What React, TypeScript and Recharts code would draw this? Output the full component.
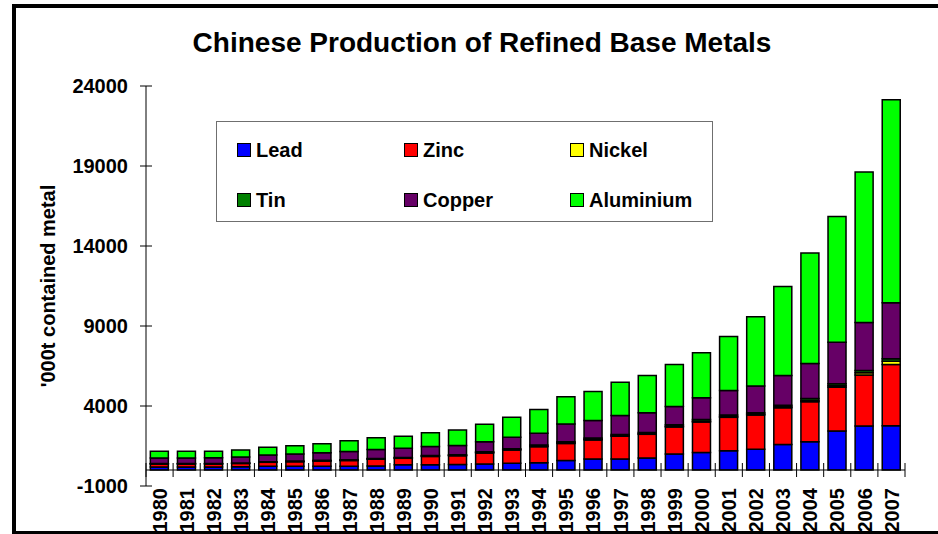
import React from 'react';
import { BarChart, Bar, XAxis, YAxis, Legend, ReferenceLine } from 'recharts';

// '000t contained metal
const years = [
  '1980', '1981', '1982', '1983', '1984', '1985', '1986', '1987', '1988', '1989',
  '1990', '1991', '1992', '1993', '1994', '1995', '1996', '1997', '1998', '1999',
  '2000', '2001', '2002', '2003', '2004', '2005', '2006', '2007',
];
const lead = [
  190, 190, 190, 210, 230, 230, 230, 240, 250, 330,
  330, 350, 375, 415, 460, 600, 690, 690, 750, 1000,
  1100, 1210, 1290, 1600, 1770, 2440, 2750, 2770,
];
const zinc = [
  190, 190, 190, 200, 250, 290, 330, 350, 420, 400,
  520, 540, 690, 830, 1000, 1060, 1190, 1420, 1480, 1690,
  1900, 2080, 2150, 2290, 2500, 2730, 3190, 3830,
];
const nickel = [
  11, 11, 12, 13, 15, 18, 20, 23, 25, 26,
  28, 30, 32, 30, 38, 42, 43, 44, 40, 45,
  51, 50, 53, 65, 75, 95, 140, 200,
];
const tin = [
  15, 16, 16, 17, 20, 20, 22, 25, 26, 30,
  35, 36, 40, 48, 67, 68, 71, 68, 80, 90,
  112, 105, 82, 98, 118, 122, 140, 160,
];
const copper = [
  350, 350, 360, 375, 420, 440, 480, 520, 560, 580,
  560, 580, 625, 730, 730, 1100, 1100, 1190, 1230, 1150,
  1350, 1520, 1670, 1850, 2200, 2600, 3000, 3500,
];
const aluminium = [
  420, 420, 410, 440, 480, 520, 560, 670, 730, 750,
  850, 960, 1100, 1250, 1480, 1710, 1810, 2080, 2330, 2625,
  2810, 3375, 4330, 5560, 6900, 7850, 9400, 12680,
];
const yTicks = [-1000, 4000, 9000, 14000, 19000, 24000];

const series = [
  { key: 'lead', name: 'Lead', color: '#0000FF' },
  { key: 'zinc', name: 'Zinc', color: '#FF0000' },
  { key: 'nickel', name: 'Nickel', color: '#FFFF00' },
  { key: 'tin', name: 'Tin', color: '#008000' },
  { key: 'copper', name: 'Copper', color: '#660066' },
  { key: 'aluminium', name: 'Aluminium', color: '#00FF00' },
];

const data = years.map((year, i) => ({
  year,
  lead: lead[i],
  zinc: zinc[i],
  nickel: nickel[i],
  tin: tin[i],
  copper: copper[i],
  aluminium: aluminium[i],
}));

const FONT = '"Liberation Sans", Arial, Helvetica, sans-serif';
const W = 938;
const H = 534;
const PLOT = { left: 146, top: 86, right: 905, bottom: 486 };
const Y_MIN = -1000;
const Y_MAX = 24000;
const Y_TICK_SIZE = 6;
const Y_TICK_MARGIN = 12;

const YTick = (props: any) => {
  const { x, y, payload } = props;
  const axisX = x + Y_TICK_SIZE + Y_TICK_MARGIN;
  return (
    <g>
      <line x1={axisX - 6} x2={axisX + 6} y1={y} y2={y} stroke="#000" strokeWidth={1} />
      <text x={x} y={y} dy="0.36em" textAnchor="end" fontSize={20} fontWeight="bold" fontFamily={FONT} fill="#000">
        {payload.value}
      </text>
    </g>
  );
};

const XTick = (props: any) => {
  const { x, y, payload } = props;
  // category axis crosses the value axis at zero, labels sit low
  const band = (PLOT.right - PLOT.left) / years.length;
  const y0 = PLOT.top + ((PLOT.bottom - PLOT.top) * Y_MAX) / (Y_MAX - Y_MIN);
  const isLast = payload.value === years[years.length - 1];
  return (
    <g>
      <line x1={x - band / 2} x2={x - band / 2} y1={y0 - 7} y2={y0 + 7} stroke="#000" strokeWidth={1} />
      {isLast && <line x1={x + band / 2} x2={x + band / 2} y1={y0 - 7} y2={y0 + 7} stroke="#000" strokeWidth={1} />}
      <text
        transform={`translate(${x},${y}) rotate(-90)`}
        dy="0.36em"
        textAnchor="end"
        fontSize={20}
        fontWeight="bold"
        fontFamily={FONT}
        fill="#000"
      >
        {payload.value}
      </text>
    </g>
  );
};

const renderLegend = () => {
  const colX = [20, 187, 353];
  const rowY = [28, 78];
  return (
    <div
      style={{
        position: 'relative',
        width: 497,
        height: 101,
        boxSizing: 'border-box',
        border: '1px solid #6f6f6f',
        background: '#fff',
        fontFamily: FONT,
      }}
    >
      {series.map((s, i) => (
        <div
          key={s.key}
          style={{
            position: 'absolute',
            left: colX[i % 3],
            top: rowY[Math.floor(i / 3)] - 12,
            height: 24,
            display: 'flex',
            alignItems: 'center',
          }}
        >
          <span
            style={{
              display: 'inline-block',
              width: 12,
              height: 12,
              background: s.color,
              border: '1px solid #000',
              marginRight: 5,
            }}
          />
          <span style={{ fontSize: 20, fontWeight: 'bold', color: '#000', lineHeight: '24px' }}>{s.name}</span>
        </div>
      ))}
    </div>
  );
};

const App: React.FC = () => {
  return (
    <div
      style={{
        position: 'absolute',
        left: 0,
        top: 0,
        width: W,
        height: H,
        overflow: 'hidden',
        background: '#fff',
      }}
    >
      <BarChart
        width={W}
        height={H}
        data={data}
        margin={{ top: PLOT.top, right: W - PLOT.right, bottom: 0, left: 0 }}
        barCategoryGap="16%"
      >
        <XAxis
          dataKey="year"
          height={H - PLOT.bottom}
          interval={0}
          axisLine={false}
          tickLine={false}
          tickSize={0}
          tickMargin={2}
          tick={<XTick />}
        />
        <YAxis
          type="number"
          width={PLOT.left}
          domain={[Y_MIN, Y_MAX]}
          ticks={yTicks}
          interval={0}
          allowDataOverflow
          axisLine={{ stroke: '#000', strokeWidth: 1 }}
          tickLine={false}
          tickSize={Y_TICK_SIZE}
          tickMargin={Y_TICK_MARGIN}
          tick={<YTick />}
        />
        <Legend
          layout="horizontal"
          verticalAlign="middle"
          align="center"
          wrapperStyle={{ left: 216, top: 121, width: 497, height: 101 }}
          content={renderLegend}
        />
        {series.map((s) => (
          <Bar
            key={s.key}
            dataKey={s.key}
            name={s.name}
            stackId="metals"
            fill={s.color}
            stroke="#000"
            strokeWidth={1.5}
            isAnimationActive={false}
          />
        ))}
        <ReferenceLine y={0} stroke="#000" strokeWidth={1} />
      </BarChart>
      <svg
        width={W}
        height={H}
        style={{ position: 'absolute', left: 0, top: 0, pointerEvents: 'none' }}
      >
        <text x={482} y={52} textAnchor="middle" fontSize={28} fontWeight="bold" fontFamily={FONT} fill="#000">
          Chinese Production of Refined Base Metals
        </text>
        <text
          transform="translate(48,286) rotate(-90)"
          textAnchor="middle"
          dy="0.36em"
          fontSize={20}
          fontWeight="bold"
          fontFamily={FONT}
          fill="#000"
        >
          '000t contained metal
        </text>
      </svg>
      <div
        style={{
          position: 'absolute',
          left: 12,
          top: 4,
          width: 1000,
          height: 531,
          boxSizing: 'border-box',
          borderTop: '4px solid #000',
          borderLeft: '4px solid #000',
          borderBottom: '4px solid #000',
          pointerEvents: 'none',
        }}
      />
    </div>
  );
};

export default App;
